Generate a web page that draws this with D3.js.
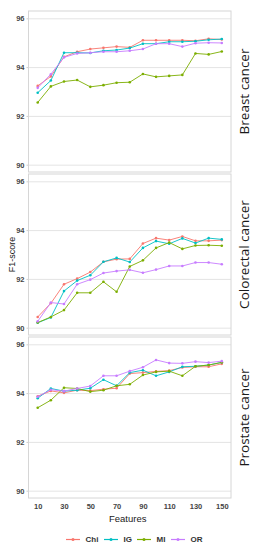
<!DOCTYPE html>
<html>
<head>
<meta charset="utf-8">
<script src="https://cdn.jsdelivr.net/npm/d3@7"></script>
<style>
  body { margin: 0; background: #fff; }
  svg { display: block; }
  .tick text { font-family: "Liberation Sans", Arial, sans-serif; }
</style>
</head>
<body>
<div id="chart"></div>
<script>
(function () {

    // DATA
    var features = [10, 20, 30, 40, 50, 60, 70, 80, 90, 100, 110, 120, 130, 140, 150];
    var methods = ["Chi", "IG", "MI", "OR"];
    var cancers = ["Breast cancer", "Colorectal cancer", "Prostate cancer"];
    var xTicks = [10, 30, 50, 70, 90, 110, 130, 150];
    var yTicks = [90, 92, 94, 96];

    var breastChi = [93.23, 93.62, 94.42, 94.63, 94.74, 94.79, 94.84, 94.81, 95.10, 95.10, 95.10, 95.10, 95.08, 95.16, 95.13];
    var breastIG  = [92.95, 93.45, 94.59, 94.59, 94.58, 94.67, 94.70, 94.78, 94.96, 94.96, 95.04, 95.04, 95.06, 95.12, 95.15];
    var breastMI  = [92.55, 93.21, 93.41, 93.47, 93.19, 93.26, 93.36, 93.38, 93.72, 93.60, 93.64, 93.68, 94.56, 94.52, 94.64];
    var breastOR  = [93.15, 93.71, 94.40, 94.56, 94.59, 94.63, 94.63, 94.67, 94.74, 94.96, 94.96, 94.84, 94.98, 95.00, 94.99];

    var colorectalChi = [90.44, 91.00, 91.78, 92.01, 92.28, 92.70, 92.81, 92.82, 93.45, 93.67, 93.59, 93.74, 93.56, 93.56, 93.59];
    var colorectalIG  = [90.20, 90.42, 91.50, 91.93, 92.15, 92.70, 92.86, 92.69, 93.27, 93.55, 93.44, 93.66, 93.47, 93.67, 93.62];
    var colorectalMI  = [90.21, 90.44, 90.72, 91.43, 91.43, 91.88, 91.47, 92.51, 92.76, 93.27, 93.49, 93.23, 93.37, 93.38, 93.36];
    var colorectalOR  = [90.26, 91.03, 90.97, 91.78, 91.97, 92.24, 92.32, 92.37, 92.25, 92.38, 92.53, 92.53, 92.67, 92.67, 92.60];

    var prostateChi = [93.87, 94.09, 94.01, 94.12, 94.10, 94.16, 94.20, 94.80, 94.84, 94.89, 94.92, 95.05, 95.08, 95.08, 95.20];
    var prostateIG  = [93.79, 94.19, 94.08, 94.12, 94.20, 94.55, 94.30, 94.84, 94.94, 94.71, 94.87, 95.08, 95.10, 95.15, 95.26];
    var prostateMI  = [93.40, 93.71, 94.22, 94.19, 94.06, 94.12, 94.30, 94.36, 94.74, 94.87, 94.90, 94.71, 95.10, 95.15, 95.26];
    var prostateOR  = [93.85, 94.14, 94.08, 94.19, 94.29, 94.71, 94.71, 94.90, 95.06, 95.36, 95.23, 95.22, 95.29, 95.25, 95.31];

    var colors = ["#F8766D", "#00BFC4", "#7CAE00", "#C77CFF"];

    var table = [
        [breastChi, breastIG, breastMI, breastOR],
        [colorectalChi, colorectalIG, colorectalMI, colorectalOR],
        [prostateChi, prostateIG, prostateMI, prostateOR]
    ];

    // LAYOUT
    var W = 260, H = 550;
    var left = 28.5, right = 231;
    var panelTop = 11, panelH = 161, panelStep = 163;

    var svg = d3.select("#chart").append("svg")
        .attr("width", W)
        .attr("height", H);

    var x = d3.scaleLinear().domain([3, 157]).range([left, right]);
    var color = d3.scaleOrdinal().domain(methods).range(colors);
    var fmt = d3.format("d");

    var line = d3.line()
        .x(function (d) { return x(d.f); });

    cancers.forEach(function (cancer, i) {
        var top = panelTop + i * panelStep;
        var y = d3.scaleLinear().domain([89.7, 96.3]).range([top + panelH, top]);

        var g = svg.append("g");

        // PANEL BACKGROUND
        g.append("rect")
            .attr("x", left).attr("y", top)
            .attr("width", right - left).attr("height", panelH)
            .attr("fill", "#fff");

        // Y GRID
        g.append("g")
            .attr("transform", "translate(" + left + ",0)")
            .call(d3.axisRight(y).tickValues(yTicks).tickSize(right - left).tickFormat(""))
            .call(function (s) { s.select(".domain").remove(); })
            .selectAll("line")
            .attr("stroke", "#e4e4e4")
            .attr("stroke-width", 1);

        // Y AXIS LABELS
        var ya = g.append("g")
            .attr("transform", "translate(" + left + ",0)")
            .call(d3.axisLeft(y).tickValues(yTicks).tickFormat(fmt).tickSize(2).tickPadding(2));
        ya.select(".domain").remove();
        ya.selectAll("line").attr("stroke", "#cfcfcf");
        ya.selectAll("text")
            .attr("fill", "#444")
            .style("font-size", "7.5px")
            .style("font-weight", "bold");

        // BORDER
        g.append("rect")
            .attr("x", left).attr("y", top)
            .attr("width", right - left).attr("height", panelH)
            .attr("fill", "none")
            .attr("stroke", "#d6d6d6")
            .attr("stroke-width", 1);

        // LINES
        var lineY = line.y(function (d) { return y(d.v); });
        table[i].forEach(function (vals, j) {
            var pts = features.map(function (f, k) { return { f: f, v: vals[k] }; });
            g.append("path")
                .datum(pts)
                .attr("fill", "none")
                .attr("stroke", color(methods[j]))
                .attr("stroke-width", 0.9)
                .attr("d", lineY);
            g.selectAll(null)
                .data(pts)
                .enter().append("circle")
                .attr("cx", function (d) { return x(d.f); })
                .attr("cy", function (d) { return y(d.v); })
                .attr("r", 1.3)
                .attr("fill", color(methods[j]));
        });

        // STRIP LABEL
        g.append("text")
            .attr("transform", "translate(243.5," + (top + panelH / 2) + ") rotate(-90)")
            .attr("text-anchor", "middle")
            .attr("dominant-baseline", "central")
            .style("font-family", "'Open Sans', sans-serif")
            .style("font-size", "13.5px")
            .attr("fill", "#1a1a1a")
            .text(cancer);
    });

    // X AXIS
    var bottom = panelTop + 2 * panelStep + panelH;
    var xa = svg.append("g")
        .attr("transform", "translate(0," + bottom + ")")
        .call(d3.axisBottom(x).tickValues(xTicks).tickSize(0).tickPadding(6));
    xa.select(".domain").remove();
    xa.selectAll("text")
        .attr("fill", "#444")
        .style("font-size", "7.5px")
        .style("font-weight", "bold");

    // AXIS TITLES
    svg.append("text")
        .attr("x", (left + right) / 2 - 2)
        .attr("y", 522)
        .attr("text-anchor", "middle")
        .style("font-family", "'Liberation Sans', Arial, sans-serif")
        .style("font-size", "9.5px")
        .attr("fill", "#1a1a1a")
        .text("Features");

    svg.append("text")
        .attr("transform", "translate(11.5," + (panelTop + (bottom - panelTop) / 2) + ") rotate(-90)")
        .attr("text-anchor", "middle")
        .attr("dominant-baseline", "central")
        .style("font-family", "'Liberation Sans', Arial, sans-serif")
        .style("font-size", "9px")
        .attr("fill", "#1a1a1a")
        .text("F1-score");

    // LEGEND
    var legendX = [66, 104, 137, 171];
    var legend = svg.append("g").attr("transform", "translate(0,539.5)");
    methods.forEach(function (m, j) {
        var lg = legend.append("g").attr("transform", "translate(" + legendX[j] + ",0)");
        lg.append("line")
            .attr("x1", 0).attr("x2", 14)
            .attr("stroke", color(m))
            .attr("stroke-width", 1.2);
        lg.append("circle")
            .attr("cx", 7).attr("r", 1.5)
            .attr("fill", color(m));
        lg.append("text")
            .attr("x", 19.5)
            .attr("dominant-baseline", "central")
            .style("font-family", "'Liberation Sans', Arial, sans-serif")
            .style("font-size", "8px")
            .style("font-weight", "bold")
            .attr("fill", "#333")
            .text(m);
    });

})();
</script>
</body>
</html>
